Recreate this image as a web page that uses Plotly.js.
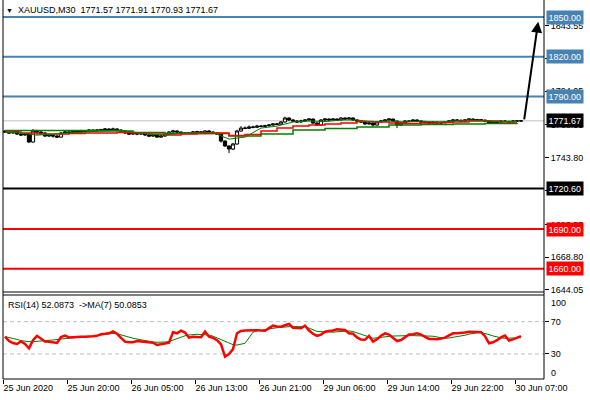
<!DOCTYPE html>
<html>
<head>
<meta charset="utf-8">
<script src="https://cdn.plot.ly/plotly-3.0.1.min.js"></script>
<style>html,body{margin:0;padding:0;background:#fff;}#chart{width:590px;height:400px;}</style>
</head>
<body>
<div id="chart"></div>
<script>
// ---- data ----
const tickLabels = ['25 Jun 2020','25 Jun 20:00','26 Jun 05:00','26 Jun 13:00','26 Jun 21:00','29 Jun 06:00','29 Jun 14:00','29 Jun 22:00','30 Jun 07:00'];

const openP = [1764.0,1763.2,1762.5,1764.0,1761.7,1761.0,1761.7,1755.7,1764.0,1763.2,
1762.5,1760.2,1761.0,1760.2,1759.4,1762.5,1763.2,1763.0,1764.0,1763.2,
1764.0,1763.8,1764.7,1764.0,1764.7,1764.9,1765.5,1764.7,1765.5,1764.7,
1764.0,1762.5,1761.7,1762.5,1761.7,1762.5,1761.0,1760.2,1761.0,1759.4,
1760.2,1761.7,1763.2,1764.0,1763.2,1762.5,1762.3,1762.6,1763.2,1763.4,
1762.5,1764.0,1763.2,1762.5,1761.7,1756.4,1752.7,1750.4,1754.2,1764.0,
1766.2,1766.0,1767.0,1766.8,1767.7,1767.5,1767.9,1768.5,1769.3,1769.1,
1770.8,1773.8,1772.3,1771.5,1770.8,1771.5,1772.3,1773.0,1770.0,1768.5,
1772.3,1773.0,1772.3,1773.0,1772.3,1773.8,1773.0,1773.8,1772.3,1771.5,
1770.8,1769.3,1770.0,1768.5,1770.8,1771.5,1772.3,1773.0,1771.5,1768.5,
1770.0,1771.5,1771.3,1772.3,1771.5,1770.8,1770.6,1770.0,1770.8,1770.0,
1770.2,1770.8,1771.5,1772.3,1772.1,1771.5,1772.3,1773.0,1772.3,1772.5,
1772.2,1771.5,1770.0,1770.8,1770.6,1771.5,1771.3,1770.8,1771.5,1771.57];

const highP = [1764.7,1763.9,1764.7,1764.4,1762.5,1762.3,1762.5,1765.5,1765.0,1764.4,
1763.2,1761.9,1761.7,1761.0,1763.2,1764.0,1764.0,1764.7,1764.7,1764.9,
1764.7,1765.5,1765.3,1765.5,1765.7,1766.2,1766.0,1766.5,1766.2,1765.3,
1764.4,1763.2,1763.2,1763.0,1763.2,1762.9,1761.7,1761.7,1761.5,1761.0,
1762.3,1764.0,1764.9,1764.5,1763.7,1763.2,1763.2,1764.0,1764.2,1764.0,
1764.7,1764.7,1763.9,1763.2,1762.0,1757.0,1753.2,1755.0,1764.9,1767.7,
1767.5,1768.2,1768.0,1768.7,1768.5,1768.7,1769.3,1770.0,1770.2,1771.5,
1774.8,1774.3,1773.0,1772.3,1772.5,1773.0,1773.8,1773.4,1770.6,1773.0,
1773.8,1773.6,1773.8,1773.6,1774.5,1774.3,1774.5,1774.2,1772.9,1772.1,
1771.2,1770.8,1770.6,1771.5,1772.3,1773.0,1773.8,1773.4,1771.9,1770.8,
1772.3,1772.2,1773.0,1772.9,1772.0,1771.5,1771.2,1771.5,1771.2,1770.9,
1771.5,1772.3,1773.0,1773.0,1772.7,1773.0,1773.8,1773.6,1773.2,1773.0,
1772.7,1771.9,1771.5,1771.3,1772.2,1772.0,1771.8,1772.1,1772.0,1771.91];

const lowP = [1762.5,1761.7,1761.9,1761.0,1760.2,1760.4,1754.9,1755.2,1762.5,1761.7,
1759.4,1759.4,1759.0,1758.7,1759.0,1762.0,1762.3,1762.5,1762.5,1762.7,
1763.0,1763.2,1763.4,1763.5,1764.0,1764.4,1764.0,1764.2,1764.0,1763.2,
1761.7,1761.0,1761.0,1760.8,1761.0,1760.2,1759.4,1759.4,1758.7,1758.9,
1759.7,1760.9,1762.7,1762.5,1761.7,1761.7,1761.7,1762.2,1762.5,1761.9,
1762.0,1762.5,1761.9,1761.0,1755.2,1751.9,1747.4,1749.6,1753.6,1763.4,
1765.3,1765.5,1766.0,1766.2,1766.8,1767.0,1767.4,1768.0,1768.5,1768.7,
1770.3,1771.5,1770.8,1770.0,1770.2,1770.9,1771.7,1769.4,1767.7,1768.0,
1771.5,1771.5,1771.9,1771.5,1771.9,1772.3,1772.5,1771.7,1770.8,1770.0,
1768.5,1768.7,1767.4,1768.0,1770.2,1771.0,1771.7,1770.8,1766.2,1767.7,
1769.4,1770.6,1770.8,1770.8,1770.0,1769.9,1769.3,1769.6,1769.3,1769.4,
1769.7,1770.3,1771.0,1771.5,1770.8,1771.0,1771.9,1771.7,1771.7,1771.5,
1770.9,1769.3,1769.6,1769.9,1770.2,1770.6,1770.2,1770.4,1770.9,1770.93];

const closeP = [1763.2,1762.5,1764.0,1761.7,1761.0,1761.7,1755.7,1764.0,1763.2,1762.5,
1760.2,1761.0,1760.2,1759.4,1762.5,1763.2,1763.0,1764.0,1763.2,1764.0,
1763.8,1764.7,1764.0,1764.7,1764.9,1765.5,1764.7,1765.5,1764.7,1764.0,
1762.5,1761.7,1762.5,1761.7,1762.5,1761.0,1760.2,1761.0,1759.4,1760.2,
1761.7,1763.2,1764.0,1763.2,1762.5,1762.3,1762.6,1763.2,1763.4,1762.5,
1764.0,1763.2,1762.5,1761.7,1756.4,1752.7,1750.4,1754.2,1764.0,1766.2,
1766.0,1767.0,1766.8,1767.7,1767.5,1767.9,1768.5,1769.3,1769.1,1770.8,
1773.8,1772.3,1771.5,1770.8,1771.5,1772.3,1773.0,1770.0,1768.5,1772.3,
1773.0,1772.3,1773.0,1772.3,1773.8,1773.0,1773.8,1772.3,1771.5,1770.8,
1769.3,1770.0,1768.5,1770.8,1771.5,1772.3,1773.0,1771.5,1768.5,1770.0,
1771.5,1771.3,1772.3,1771.5,1770.8,1770.6,1770.0,1770.8,1770.0,1770.2,
1770.8,1771.5,1772.3,1772.1,1771.5,1772.3,1773.0,1772.3,1772.5,1772.2,
1771.5,1770.0,1770.8,1770.6,1771.5,1771.3,1770.8,1771.5,1771.57,1771.67];

// moving averages on the price panel
const maRedStep4 = [1763.2,1762.5,1761.7,1761.7,1762.1,1762.5,1762.5,1762.8,1762.5,1761.7,
1760.9,1761.7,1762.1,1762.5,1760.6,1761.3,1764.0,1766.2,1767.7,1768.5,
1769.3,1770.0,1771.1,1770.8,1770.0,1769.6,1770.0,1770.4,1770.8,1771.5,
1771.5,1770.8,1770.8];
const maGreenStep8 = [1764.3,1764.3,1764.3,1764.0,1762.8,1762.1,1762.1,1760.2,1761.7,1764.7,
1765.9,1767.0,1768.5,1768.9,1769.3,1769.6,1770.0];
const maGreenFast4 = [1763.2,1762.5,1760.9,1761.7,1762.5,1763.6,1764.3,1764.7,1763.2,1761.7,
1760.9,1762.5,1762.8,1762.8,1757.9,1759.4,1766.2,1767.7,1770.8,1771.5,
1771.1,1772.3,1772.3,1770.8,1771.5,1770.8,1771.5,1770.8,1771.5,1772.3,
1771.9,1771.1,1771.1];

// RSI(14) and its MA(7)
const rsi = [51.4,46,43.5,42.4,45.5,42.4,37,47,52.5,49,
45.5,45,44.5,43.6,51,52.7,50.5,51,51.4,51.4,
51.4,51.4,51.8,52.5,54.5,55,55.6,58,55,50,
45.2,44.5,44.5,46,45.5,44.5,44,44,41.1,42.4,
43,44,56.9,55.6,58.8,56.5,50.2,51.4,51,50.7,
57.6,51.4,50,47,42,26.7,30,36,55.6,58.5,
59,59.4,59.7,59.5,59,58.8,62,65,64,63.8,
65.5,67.1,62.5,61.8,61.8,65,59,55,52.5,54,
57.6,58.5,59,60.5,60.5,59.7,55.6,55,50.5,47.8,
47.5,52.3,45.2,48.2,52.5,55.5,54,50,46,47.3,
51,54,54.4,55.5,54,51.4,48.6,48.4,48.2,49,
50.2,53,55.6,55.6,55.6,56.5,57.4,57.6,57.2,56.9,
52,43.2,44.5,47,50.5,52.7,46.5,48,50.5,52.09];
const rsiMa = [51.5,50.5,49,48,46.5,45.5,45.2,45.2,45.5,46.2,
46.7,47,47.3,47.8,48.5,49.2,49.5,50,50.5,51,
51.2,51.4,52,52.8,53.5,54.2,55,55.5,55,53.5,
52,50.5,49.5,48.5,47.5,46.5,45.5,44.8,44.5,44.5,
44.8,45.5,47.5,49.5,51.2,52.5,53.5,54,54.4,54,
53.8,53.5,52,50,48,46,43.5,41.5,41.1,42.2,
43.2,50,57,58.5,59.5,60.5,61,61.8,62.5,63.2,
63.6,63.8,63.8,63.8,63.8,63.8,62,60,58,57.6,
57.3,57,57,57.5,58,58.5,58.5,57.8,56,54.5,
52.5,51,49.4,50,50.8,51.4,51.8,52.2,52.5,52.7,
52.7,52.7,52.7,52.7,52.6,52.5,52.4,52,51,50,
49.4,49.8,50.5,51.2,52,53.2,54.5,55.5,56.2,56.4,
55.5,54,52.3,51,50,49.4,49.5,49.8,50,50.09];

const priceTicks = [1843.55,1818.80,1794.05,1768.55,1743.80,1719.05,1693.55,1668.80,1644.05];
const blueLevels = [1850.00,1820.00,1790.00];
const blackLevels = [1720.60];
const redLevels = [1690.00,1660.00];
const currentPrice = 1771.67;
const arrowFrom = [129.75, 1771.67];
const arrowTo = [133.3, 1846.5];

// ---- layout helpers (pixel -> paper) ----
const W = 590, H = 400;
const px = v => v / W;
const py = v => 1 - v / H;
const L = 3, R = 544;
const FONT = 'Liberation Sans, Arial, sans-serif';

const idx = closeP.map((_, i) => i);
const idx4 = maRedStep4.map((_, k) => 4 * k);
const idx8 = maGreenStep8.map((_, k) => 8 * k);
const idxF = maGreenFast4.map((_, k) => 4 * k);

const traces = [
  {type:'scatter', mode:'lines', x: idx8, y: maGreenStep8, line:{color:'#008000', width:1.5, shape:'hv'}, hoverinfo:'skip', xaxis:'x', yaxis:'y'},
  {type:'scatter', mode:'lines', x: idx4, y: maRedStep4, line:{color:'#ff0000', width:1.5, shape:'hv'}, hoverinfo:'skip', xaxis:'x', yaxis:'y'},
  {type:'scatter', mode:'lines', x: idxF, y: maGreenFast4, line:{color:'#008000', width:1}, hoverinfo:'skip', xaxis:'x', yaxis:'y'},
  {type:'candlestick', x: idx, open: openP, high: highP, low: lowP, close: closeP,
   increasing:{line:{color:'#000', width:1}, fillcolor:'#ffffff'},
   decreasing:{line:{color:'#000', width:1}, fillcolor:'#000000'},
   whiskerwidth:0, hoverinfo:'skip', xaxis:'x', yaxis:'y'},
  {type:'scatter', mode:'lines', x: idx, y: rsiMa, line:{color:'#008000', width:1}, hoverinfo:'skip', xaxis:'x', yaxis:'y2'},
  {type:'scatter', mode:'lines', x: idx, y: rsi, line:{color:'#ff0000', width:2.5}, hoverinfo:'skip', xaxis:'x', yaxis:'y2'}
];

const shapes = [];
const hline = (y, color, width, yref, dash) => shapes.push({type:'line', xref:'paper', x0:px(L), x1:px(R), yref: yref, y0:y, y1:y, line:{color:color, width:width, dash: dash || 'solid'}, layer:'below'});
hline(currentPrice, '#c0c0c0', 1, 'y');
blueLevels.forEach(v => hline(v, '#4682B4', 2, 'y'));
blackLevels.forEach(v => hline(v, '#000000', 2, 'y'));
redLevels.forEach(v => hline(v, '#ff0000', 2, 'y'));
hline(70, '#c0c0c0', 1, 'y2', '4px,3px');
hline(30, '#c0c0c0', 1, 'y2', '4px,3px');
// frames
const frame = (x0, y0, x1, y1) => shapes.push({type:'line', xref:'paper', yref:'paper', x0:x0, y0:y0, x1:x1, y1:y1, line:{color:'#000', width:1}, layer:'above'});
frame(px(L), py(0), px(L), py(379));
frame(px(R), py(0), px(R), py(379));
frame(px(L), py(292), px(R), py(292));
frame(px(L), py(295), px(R), py(295));
frame(px(L), py(379), px(R), py(379));

const annotations = [];
const boxLabel = (v, bg) => annotations.push({xref:'paper', x: px(546), xanchor:'left', yref:'y', y: v, yanchor:'middle',
  text: v.toFixed(2), showarrow:false, bgcolor: bg, borderpad:1.5, font:{family:FONT, size:9, color:'#fff'}});
blueLevels.forEach(v => boxLabel(v, '#4682B4'));
boxLabel(currentPrice, '#000000');
blackLevels.forEach(v => boxLabel(v, '#000000'));
redLevels.forEach(v => boxLabel(v, '#ff0000'));

annotations.push({xref:'paper', yref:'paper', x: px(4), y: py(10), xanchor:'left', yanchor:'middle', showarrow:false,
  text:'<span style="font-size:7px">▼</span>  XAUUSD,M30  1771.57 1771.91 1770.93 1771.67', font:{family:FONT, size:9, color:'#000'}});
annotations.push({xref:'paper', yref:'paper', x: px(6), y: py(305), xanchor:'left', yanchor:'middle', showarrow:false,
  text:'RSI(14) 52.0873  ->MA(7) 50.0853', font:{family:FONT, size:9, color:'#000'}});
annotations.push({xref:'paper', yref:'paper', x: px(549), y: py(302.5), xanchor:'left', yanchor:'middle', showarrow:false,
  text:'100', font:{family:FONT, size:9, color:'#000'}});
annotations.push({xref:'paper', yref:'paper', x: px(549), y: py(372.5), xanchor:'left', yanchor:'middle', showarrow:false,
  text:'0', font:{family:FONT, size:9, color:'#000'}});
annotations.push({x: arrowTo[0], y: arrowTo[1], xref:'x', yref:'y', ax: arrowFrom[0], ay: arrowFrom[1], axref:'x', ayref:'y',
  showarrow:true, arrowhead:2, arrowsize:1.1, arrowwidth:2, arrowcolor:'#000', text:'', standoff:0, startstandoff:0});

const layout = {
  width: W, height: H,
  margin:{l:0, r:0, t:0, b:0},
  paper_bgcolor:'#fff', plot_bgcolor:'#fff',
  showlegend:false,
  boxgap:0.1, boxgroupgap:0.1,
  xaxis:{domain:[px(L), px(R)], range:[-0.5, 134.75], anchor:'y2',
    tickvals: tickLabels.map((_, k) => 16 * k - 0.5), ticktext: tickLabels,
    ticks:'outside', ticklen:4, tickcolor:'#000', tickwidth:1,
    ticklabelposition:'outside right',
    tickfont:{family:FONT, size:9, color:'#000'},
    showgrid:false, zeroline:false, showline:false, rangeslider:{visible:false}, fixedrange:true},
  yaxis:{domain:[1 - 292/H, 1 - 3/H], range:[1642.5, 1860.6], side:'right', anchor:'x',
    tickvals: priceTicks, ticktext: priceTicks.map(v => v.toFixed(2)),
    ticks:'outside', ticklen:4, tickcolor:'#000',
    tickfont:{family:FONT, size:9, color:'#000'},
    showgrid:false, zeroline:false, showline:false, fixedrange:true},
  yaxis2:{domain:[1 - 379/H, 1 - 295/H], range:[-1, 103], side:'right', anchor:'x',
    tickvals:[70, 30], ticktext:['70','30'],
    ticks:'outside', ticklen:4, tickcolor:'#000',
    tickfont:{family:FONT, size:9, color:'#000'},
    showgrid:false, zeroline:false, showline:false, fixedrange:true},
  shapes: shapes,
  annotations: annotations
};

Plotly.newPlot('chart', traces, layout, {staticPlot:true, displayModeBar:false});
</script>
</body>
</html>
